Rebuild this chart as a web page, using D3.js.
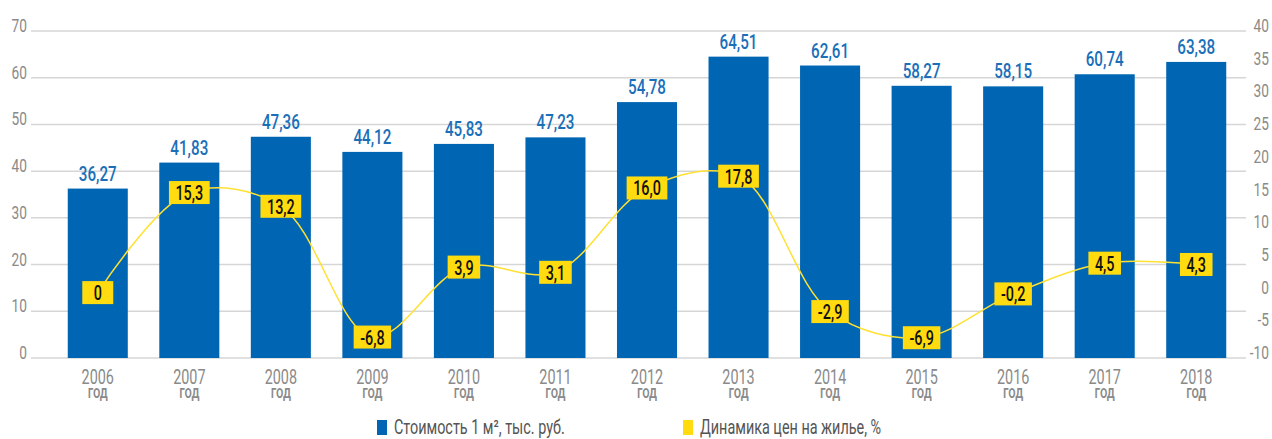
<!DOCTYPE html>
<html>
<head>
<meta charset="utf-8">
<script src="https://cdn.jsdelivr.net/npm/d3@7"></script>
<style>
  html, body { margin: 0; padding: 0; background: #fff; }
  svg { display: block; }
  text { font-family: Roboto, "DejaVu Sans", sans-serif; }
</style>
</head>
<body>
<svg id="chart" width="1272" height="439"></svg>
<script>
// ---- Data ----
const years = ["2006","2007","2008","2009","2010","2011","2012","2013","2014","2015","2016","2017","2018"];
const pricePerM2 = [36.27, 41.83, 47.36, 44.12, 45.83, 47.23, 54.78, 64.51, 62.61, 58.27, 58.15, 60.74, 63.38];
const priceChange = [0, 15.3, 13.2, -6.8, 3.9, 3.1, 16.0, 17.8, -2.9, -6.9, -0.2, 4.5, 4.3];
const leftTicks = [0, 10, 20, 30, 40, 50, 60, 70];
const rightTicks = [-10, -5, 0, 5, 10, 15, 20, 25, 30, 35, 40];
const yearSuffix = "год";
const legendLabels = ["Стоимость 1 м², тыс. руб.", "Динамика цен на жилье, %"];

// ---- Styles ----
const BLUE = "#0066b3";
const BLUE_TEXT = "#1b6fb9";
const YELLOW = "#ffdb0f";
const LINE_YELLOW = "#ffe133";
const GRID = "#d6d6d6";
const AXIS_TEXT = "#8a8a8a";
const SX = 0.72;
const FS = 20;

const svg = d3.select("#chart");
const fmt = v => v.toFixed(2).replace(".", ",");
const fmt1 = v => (v === 0 ? "0" : v.toFixed(1).replace(".", ","));

const x = d3.scaleBand().domain(years).range([52, 1242]).paddingInner(0.344).paddingOuter(0.172);
const yL = d3.scaleLinear().domain([0, 70]).range([358, 31]);
const yR = d3.scaleLinear().domain([-10, 40]).range([358, 31]);

function ctext(g, tx, ty, str, anchor, color, size, sx) {
  return g.append("text")
    .attr("transform", `translate(${tx},${ty}) scale(${sx || SX},1)`)
    .attr("text-anchor", anchor || "middle")
    .attr("fill", color)
    .attr("font-size", size || FS)
    .text(str);
}

// Gridlines
svg.append("g").selectAll("line").data(leftTicks).join("line")
  .attr("x1", 31).attr("x2", 1246)
  .attr("y1", d => yL(d)).attr("y2", d => yL(d))
  .attr("stroke", GRID).attr("stroke-width", 1.5);

// Left axis labels
const gL = svg.append("g");
leftTicks.forEach(t => ctext(gL, 27, yL(t) + 1, String(t), "end", AXIS_TEXT, 19));

// Right axis labels
const gR = svg.append("g");
rightTicks.forEach(t => ctext(gR, 1269, yR(t) + 1, String(t), "end", AXIS_TEXT, 19));

// Bars
svg.append("g").selectAll("rect").data(years).join("rect")
  .attr("x", d => x(d))
  .attr("width", x.bandwidth())
  .attr("y", (d, i) => yL(pricePerM2[i]))
  .attr("height", (d, i) => yL(0) - yL(pricePerM2[i]))
  .attr("fill", BLUE);

// Bar value labels
const gBL = svg.append("g");
years.forEach((yv, i) => ctext(gBL, x(yv) + x.bandwidth() / 2, yL(pricePerM2[i]) - 8, fmt(pricePerM2[i]), "middle", BLUE_TEXT, 20, 0.76).attr("font-weight", 500));

// X labels (year + "год" as one text block)
const gX = svg.append("g");
years.forEach(yv => {
  const cx = x(yv) + x.bandwidth() / 2;
  const t = gX.append("text")
    .attr("transform", `translate(${cx},384) scale(0.72,1)`)
    .attr("text-anchor", "middle")
    .attr("fill", AXIS_TEXT);
  t.append("tspan").attr("x", 0).attr("y", 0).attr("font-size", 20).text(yv);
  t.append("tspan").attr("x", 0).attr("y", 14).attr("font-size", 18).attr("font-weight", 500).text(yearSuffix);
});

// Line
const pts = years.map((yv, i) => [x(yv) + x.bandwidth() / 2, yR(priceChange[i])]);
svg.append("path")
  .attr("d", d3.line().curve(d3.curveCatmullRom.alpha(0.5))(pts))
  .attr("fill", "none").attr("stroke", LINE_YELLOW).attr("stroke-width", 1.5);

// Line labels (yellow boxes)
const gP = svg.append("g");
pts.forEach((p, i) => {
  const g = gP.append("g");
  const rect = g.append("rect").attr("fill", YELLOW);
  const t = ctext(g, p[0], p[1] + 7.5, fmt1(priceChange[i]), "middle", "#111", 20, 0.72).attr("font-weight", 500);
  const w = Math.max(31, t.node().getComputedTextLength() * 0.72 + 13);
  rect.attr("x", p[0] - w / 2).attr("y", p[1] - 11.5).attr("width", w).attr("height", 23);
});

// Legend
const gLeg = svg.append("g");
gLeg.append("rect").attr("x", 377).attr("y", 420).attr("width", 10).attr("height", 15).attr("fill", BLUE);
ctext(gLeg, 394, 434, legendLabels[0], "start", "#555", 20, 0.72);
gLeg.append("rect").attr("x", 683).attr("y", 420).attr("width", 10).attr("height", 15).attr("fill", YELLOW);
ctext(gLeg, 700, 434, legendLabels[1], "start", "#555", 20, 0.72);
</script>
</body>
</html>
